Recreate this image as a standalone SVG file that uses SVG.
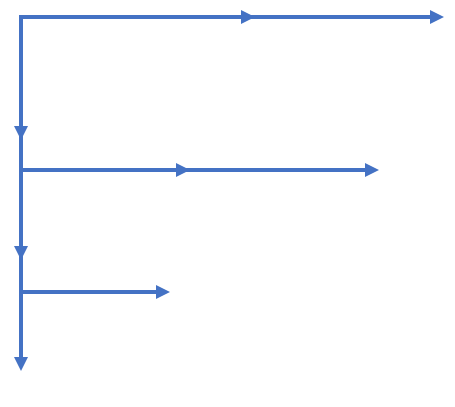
<svg xmlns="http://www.w3.org/2000/svg" width="455" height="407" viewBox="0 0 455 407">
  <defs>
    <marker id="arrow" markerUnits="userSpaceOnUse" markerWidth="14" markerHeight="14" refX="4" refY="7" orient="auto" viewBox="0 0 14 14">
      <path d="M0,0 L14,7 L0,14 Z" fill="#4472C4"/>
    </marker>
    <style>
      .c { stroke: #4472C4; stroke-width: 4; fill: none; marker-end: url(#arrow); }
    </style>
  </defs>
  <rect width="455" height="407" fill="#ffffff"/>
  <g id="connectors">
    <path class="c" d="M19,17 H245"/>
    <path class="c" d="M245,17 H434"/>
    <path class="c" d="M21,15 V130"/>
    <path class="c" d="M21,130 V250"/>
    <path class="c" d="M21,250 V361"/>
    <path class="c" d="M21,170 H180"/>
    <path class="c" d="M180,170 H369"/>
    <path class="c" d="M21,292 H160"/>
  </g>
</svg>
